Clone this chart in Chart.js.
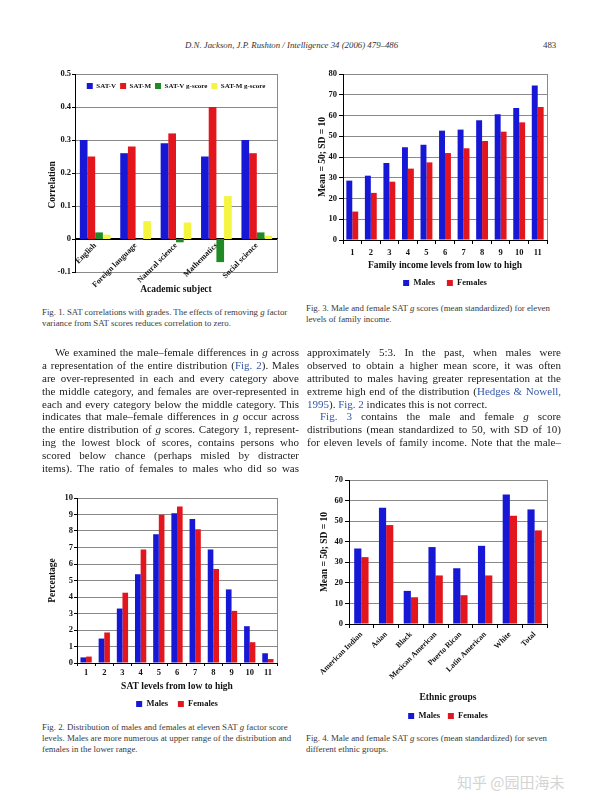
<!DOCTYPE html>
<html lang="en">
<head>
<meta charset="utf-8">
<title>Jackson &amp; Rushton (2006), p. 483</title>
<script src="https://cdn.jsdelivr.net/npm/chart.js@4.4.1/dist/chart.umd.min.js"></script>
<style>
  html, body { margin: 0; padding: 0; background: #fff; }
  body { position: relative; width: 600px; height: 809px; overflow: hidden;
         font-family: "Liberation Serif", "Times New Roman", serif; color: #1c1c1c; }
  canvas { position: absolute; }
  .hdr { position: absolute; top: 40px; font-size: 8.8px; line-height: 10px; color: #333; white-space: nowrap; }
  .cap { position: absolute; font-size: 8.8px; line-height: 11px; color: #3a3a3a; white-space: nowrap; }
  .col { position: absolute; top: 346px; font-size: 11px; line-height: 12.9px; }
  .col div { height: 12.9px; text-align: justify; text-align-last: justify; }
  .col div.last { text-align-last: left; }
  .col div.ind { text-indent: 13px; }
  .ref { color: #3557a8; }
  .mark { position: absolute; left: 457px; top: 774px; font-family: "Noto Sans CJK SC", sans-serif;
          font-size: 15px; line-height: 16px; color: #d4d4d4; white-space: nowrap; }
</style>
</head>
<body>

<div class="hdr" style="left:185px"><i>D.N. Jackson, J.P. Rushton / Intelligence 34 (2006) 479–486</i></div>
<div class="hdr" style="left:543px">483</div>

<canvas id="fig1" width="250" height="250" style="left:40px;top:50px"></canvas>
<canvas id="fig3" width="270" height="240" style="left:300px;top:60px"></canvas>
<canvas id="fig2" width="260" height="235" style="left:40px;top:485px"></canvas>
<canvas id="fig4" width="270" height="268" style="left:300px;top:465px"></canvas>

<div class="cap" style="left:42px;top:306.5px">Fig. 1. SAT correlations with grades. The effects of removing <i>g</i> factor<br>variance from SAT scores reduces correlation to zero.</div>
<div class="cap" style="left:306px;top:302.5px">Fig. 3. Male and female SAT <i>g</i> scores (mean standardized) for eleven<br>levels of family income.</div>
<div class="cap" style="left:42px;top:722px">Fig. 2. Distribution of males and females at eleven SAT <i>g</i> factor score<br>levels. Males are more numerous at upper range of the distribution and<br>females in the lower range.</div>
<div class="cap" style="left:306px;top:733px">Fig. 4. Male and female SAT <i>g</i> scores (mean standardized) for seven<br>different ethnic groups.</div>

<div class="col" style="left:42px;width:257px">
  <div class="ind">We examined the male–female differences in <i>g</i> across</div>
  <div>a representation of the entire distribution (<span class="ref">Fig. 2</span>). Males</div>
  <div>are over-represented in each and every category above</div>
  <div>the middle category, and females are over-represented in</div>
  <div>each and every category below the middle category. This</div>
  <div>indicates that male–female differences in <i>g</i> occur across</div>
  <div>the entire distribution of <i>g</i> scores. Category 1, represent-</div>
  <div>ing the lowest block of scores, contains persons who</div>
  <div>scored below chance (perhaps misled by distracter</div>
  <div>items). The ratio of females to males who did so was</div>
</div>

<div class="col" style="left:307px;width:254px">
  <div>approximately 5:3. In the past, when males were</div>
  <div>observed to obtain a higher mean score, it was often</div>
  <div>attributed to males having greater representation at the</div>
  <div>extreme high end of the distribution (<span class="ref">Hedges &amp; Nowell,</span></div>
  <div class="last"><span class="ref">1995</span>). <span class="ref">Fig. 2</span> indicates this is not correct.</div>
  <div class="ind"><span class="ref">Fig. 3</span> contains the male and female <i>g</i> score</div>
  <div>distributions (mean standardized to 50, with SD of 10)</div>
  <div>for eleven levels of family income. Note that the male–</div>
</div>

<div class="mark">知乎 @园田海未</div>

<script>
// Fig. 1 – correlations with grades
const subjects = ['English', 'Foreign language', 'Natural science', 'Mathematics', 'Social science'];
const satV = [0.30, 0.26, 0.29, 0.25, 0.30];
const satM = [0.25, 0.28, 0.32, 0.40, 0.26];
const satVg = [0.02, -0.003, -0.01, -0.07, 0.02];
const satMg = [0.013, 0.054, 0.05, 0.13, 0.01];

// Fig. 2 – percentage at eleven SAT levels
const satLevels = ['1', '2', '3', '4', '5', '6', '7', '8', '9', '10', '11'];
const pctMales = [0.34, 1.48, 3.3, 5.38, 7.8, 9.07, 8.72, 6.88, 4.46, 2.23, 0.59];
const pctFemales = [0.39, 1.85, 4.26, 6.88, 8.99, 9.49, 8.11, 5.7, 3.16, 1.26, 0.24];

// Fig. 3 – g scores by family income
const incomeLevels = ['1', '2', '3', '4', '5', '6', '7', '8', '9', '10', '11'];
const incomeMales = [28.6, 31.0, 37.1, 44.7, 45.9, 52.7, 53.2, 57.7, 60.6, 63.6, 74.5];
const incomeFemales = [13.7, 22.7, 28.1, 34.4, 37.4, 41.9, 44.2, 47.7, 52.2, 56.7, 64.1];

// Fig. 4 – g scores by ethnic group
const ethnicGroups = ['American Indian', 'Asian', 'Black', 'Mexican American', 'Puerto Rican', 'Latin American', 'White', 'Total'];
const ethnicMales = [36.7, 56.5, 16.1, 37.4, 27.1, 38.0, 63.0, 55.7];
const ethnicFemales = [32.5, 48.1, 13.0, 23.6, 14.0, 23.6, 52.6, 45.5];

const BLUE = '#1717d6';
const RED = '#e3161d';
const GREEN = '#208b24';
const YELLOW = '#f5f540';
const GRID = '#8a8a8a';

Chart.defaults.font.family = '"Liberation Serif", "Times New Roman", serif';
Chart.defaults.font.weight = 'bold';
Chart.defaults.font.size = 8.5;
Chart.defaults.color = '#111';
Chart.defaults.animation = false;
Chart.defaults.events = [];
Chart.defaults.plugins.tooltip.enabled = false;

// grey box round the plot area (left and zero lines are drawn black on top)
const plotFrame = {
    id: 'plotFrame',
    beforeDraw(chart) {
        const { ctx, chartArea: a } = chart;
        ctx.save();
        ctx.strokeStyle = GRID;
        ctx.lineWidth = 1;
        ctx.strokeRect(Math.round(a.left) + 0.5, Math.round(a.top) + 0.5, Math.round(a.width), Math.round(a.height));
        ctx.restore();
    }
};

// put the legend's text centre at opts.y (canvas px)
const legendAt = {
    id: 'legendAt',
    afterLayout(chart, args, opts) {
        const lg = chart.legend;
        if (!lg || opts.y === undefined) return;
        const dy = opts.y - (lg.top + opts.pad + opts.size / 2);
        lg.top += dy;
        lg.bottom += dy;
    }
};

const isZero = v => Math.abs(v) < 1e-9;
const gridColor = c => (c.tick && isZero(c.tick.value)) ? '#000' : GRID;

function barChart(canvasId, labels, datasets, o) {
    return new Chart(document.getElementById(canvasId), {
        type: 'bar',
        data: { labels: labels, datasets: datasets },
        options: {
            responsive: false,
            layout: { padding: o.padding },
            datasets: { bar: { categoryPercentage: o.barPct, barPercentage: 1 } },
            plugins: {
                legend: {
                    position: o.legendPos || 'bottom',
                    fullSize: false,
                    labels: { boxWidth: 6, boxHeight: 6, padding: o.legendPad, font: { size: o.legendSize } }
                },
                legendAt: { y: o.legendY, pad: o.legendPad, size: o.legendSize }
            },
            scales: {
                x: Object.assign({
                    afterFit: s => { s.height = o.xHeight; },
                    grid: { drawOnChartArea: false, tickLength: o.xTickLen, tickColor: '#000' },
                    border: { color: '#000' },
                    ticks: { padding: o.xTickPad, autoSkip: false, font: { size: o.xFont || 8.5 },
                             minRotation: o.xRotate || 0, maxRotation: o.xRotate || 0 },
                    title: { display: true, text: o.xTitle, font: { size: 9.5 }, padding: { top: 0, bottom: o.xTitlePad } }
                }, o.xExtra || {}),
                y: {
                    min: o.yMin, max: o.yMax,
                    afterFit: s => { s.width = o.yWidth; },
                    ticks: {
                        stepSize: o.yStep, padding: o.yTickPad,
                        callback: v => isZero(v) ? '0' : String(+v.toFixed(o.yDigits || 0))
                    },
                    grid: { color: gridColor, tickLength: o.yTickLen, tickColor: '#000' },
                    border: { color: '#000' },
                    title: { display: true, text: o.yTitle, font: { size: 9.5 }, padding: { top: o.yTitlePad, bottom: 0 } }
                }
            }
        },
        plugins: [plotFrame, legendAt]
    });
}

barChart('fig1', subjects, [
    { label: 'SAT-V', data: satV, backgroundColor: BLUE },
    { label: 'SAT-M', data: satM, backgroundColor: RED },
    { label: 'SAT-V g-score', data: satVg, backgroundColor: GREEN },
    { label: 'SAT-M g-score', data: satMg, backgroundColor: YELLOW }
], {
    padding: { left: 0, right: 13, top: 3, bottom: 28 },
    barPct: 0.76,
    legendPos: 'top', legendPad: 4, legendSize: 7, legendY: 36,
    xHeight: 0, xTickLen: 0, xTickPad: 2, xFont: 8, xRotate: 45,
    xTitle: 'Academic subject', xTitlePad: -56.7,
    // category axis sits on the zero line, labels hang into the negative band
    xExtra: { position: { y: 0 }, grid: { display: false, drawTicks: false } },
    yMin: -0.1, yMax: 0.5, yStep: 0.1, yDigits: 1, yWidth: 35, yTickLen: 3, yTickPad: 1,
    yTitle: 'Correlation\u00a0\u00a0\u00a0\u00a0\u00a0\u00a0\u00a0\u00a0\u00a0\u00a0', yTitlePad: 7.3
});

barChart('fig3', incomeLevels, [
    { label: 'Males', data: incomeMales, backgroundColor: BLUE },
    { label: 'Females', data: incomeFemales, backgroundColor: RED }
], {
    padding: { left: 0, right: 23, top: 14, bottom: 2.75 },
    barPct: 0.64,
    legendPad: 11.75, legendSize: 8.5, legendY: 223,
    xHeight: 27, xTickLen: 4, xTickPad: 3.9,
    xTitle: 'Family income levels from low to high', xTitlePad: -4.7,
    yMin: 0, yMax: 80, yStep: 10, yWidth: 43, yTickLen: 4, yTickPad: 2,
    yTitle: 'Mean = 50; SD = 10', yTitlePad: 17.3
});

barChart('fig2', satLevels, [
    { label: 'Males', data: pctMales, backgroundColor: BLUE },
    { label: 'Females', data: pctFemales, backgroundColor: RED }
], {
    padding: { left: 0, right: 23, top: 13, bottom: 1.75 },
    barPct: 0.62,
    legendPad: 9.75, legendSize: 8.5, legendY: 219,
    xHeight: 27, xTickLen: 3, xTickPad: 1.9,
    xTitle: 'SAT levels from low to high', xTitlePad: -2.7,
    yMin: 0, yMax: 10, yStep: 1, yWidth: 37, yTickLen: 3, yTickPad: 1,
    yTitle: 'Percentage', yTitlePad: 7.3
});

barChart('fig4', ethnicGroups, [
    { label: 'Males', data: ethnicMales, backgroundColor: BLUE },
    { label: 'Females', data: ethnicFemales, backgroundColor: RED }
], {
    padding: { left: 0, right: 23, top: 15, bottom: 2.75 },
    barPct: 0.58,
    legendPad: 7.75, legendSize: 8.5, legendY: 251,
    xHeight: 80, xTickLen: 4, xTickPad: 2, xFont: 7.8, xRotate: 45,
    xTitle: 'Ethnic groups', xTitlePad: 0.3,
    yMin: 0, yMax: 70, yStep: 10, yWidth: 49, yTickLen: 4, yTickPad: 2,
    yTitle: 'Mean = 50; SD = 10', yTitlePad: 19.3
});
</script>
</body>
</html>
